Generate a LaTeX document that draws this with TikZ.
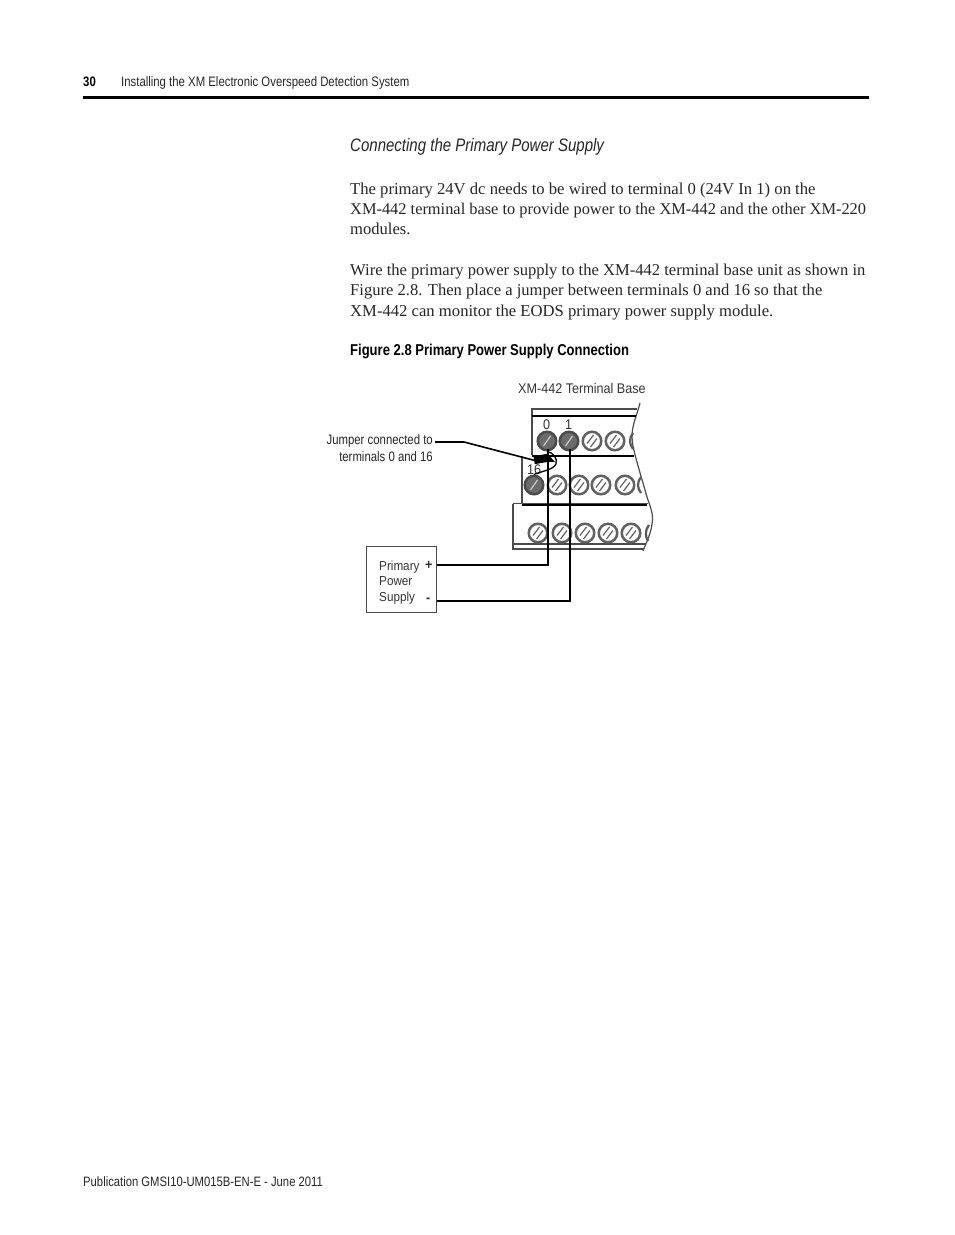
\documentclass[tikz,border=0pt]{standalone}
\usepackage{fontspec}
\setmainfont{Liberation Serif}
\newfontfamily\condfont[FakeStretch=0.83]{Liberation Sans}
\newfontfamily\figfont[FakeStretch=0.9]{Liberation Sans}
\begin{document}
\begin{tikzpicture}[x=1pt,y=-1pt,
  txt/.style={inner sep=0pt,anchor=base west,text=black!85},
  bodytxt/.style={txt,font=\fontsize{16.57}{18}\selectfont},
  headtxt/.style={txt,font=\condfont\fontsize{13.7}{15}\selectfont},
  labeltxt/.style={inner sep=0pt,anchor=base east,text=black!85,font=\condfont\fontsize{13.7}{15}\selectfont},
  figtxt/.style={inner sep=0pt,anchor=base west,text=black!80,font=\figfont\fontsize{13}{14}\selectfont},
  outline/.style={draw=black!70,line width=1.2pt},
  thick rail/.style={draw=black,line width=2pt},
  wire/.style={draw=black,line width=2pt},
  screwbase/.style={circle,minimum size=18.5pt,inner sep=0pt,line width=2.5pt,draw=black!62},
  darkscrew/.style={screwbase,draw=black!70,fill=black!58,path picture={
      \draw[white!80!black,line width=1.2pt] ([shift={(3.5pt,5pt)}]path picture bounding box.center) -- ([shift={(-3.5pt,-5pt)}]path picture bounding box.center);}},
  lightscrew/.style={screwbase,fill=white,path picture={
      \draw[black!62,line width=1.2pt] ([shift={(1.5pt,6pt)}]path picture bounding box.center) -- ([shift={(-5pt,-2.5pt)}]path picture bounding box.center);
      \draw[black!62,line width=1.2pt] ([shift={(5pt,2.5pt)}]path picture bounding box.center) -- ([shift={(-1.5pt,-6pt)}]path picture bounding box.center);}},
]
\useasboundingbox (0,0) rectangle (954,1235);
\fill[white] (0,0) rectangle (954,1235);

% page header
\node[txt,font=\condfont\bfseries\fontsize{13.7}{15}\selectfont,text=black] (pagenum) at (83,86) {30};
\node[headtxt] (runhead) at (121,86) {Installing the XM Electronic Overspeed Detection System};
\fill[black] (83,95.5) rectangle (869,98.5);

% text
\node[txt,font=\condfont\itshape\fontsize{18.1}{20}\selectfont] (heading) at (350,151) {Connecting the Primary Power Supply};
\node[bodytxt,font=\fontsize{16.64}{18}\selectfont] (b1) at (350,194.5) {The primary 24V dc needs to be wired to terminal 0 (24V In 1) on the};
\node[bodytxt,font=\fontsize{16.38}{18}\selectfont] (b2) at (350,214.5) {XM-442 terminal base to provide power to the XM-442 and the other XM-220};
\node[bodytxt] (b3) at (350,234.5) {modules.};
\node[bodytxt] (b4) at (350,275.5) {Wire the primary power supply to the XM-442 terminal base unit as shown in};
\node[bodytxt] (b5) at (350,295.5) {Figure 2.8. Then place a jumper between terminals 0 and 16 so that the};
\node[bodytxt,font=\fontsize{16.65}{18}\selectfont] (b6) at (350,316.5) {XM-442 can monitor the EODS primary power supply module.};
\node[txt,font=\condfont\bfseries\fontsize{15.7}{17}\selectfont,text=black] (caption) at (350,355) {Figure 2.8 Primary Power Supply Connection};
\node[headtxt,font=\condfont\fontsize{13.58}{15}\selectfont] (footer) at (83,1186.5) {Publication GMSI10-UM015B-EN-E - June 2011};

% terminal base
\node[figtxt,font=\figfont\fontsize{14}{15}\selectfont] (title) at (518,393) {XM-442 Terminal Base};
\path[outline] (532,455) -- (532,409) -- (637,409);
\path[outline] (640,403) .. controls (636,418) and (632,425) .. (632,437) .. controls (632,448) and (640,472) .. (647,497);
\path[thick rail] (532,415.5) -- (636,415.5);
\path[thick rail] (532,455.5) -- (634,455.5);
\path[outline] (522,456) -- (522,504);
\path[outline] (513,503.5) -- (648,503.5);
\path[thick rail] (522,505) -- (647,505);
\path[outline] (513,503.5) -- (513,549) -- (644,549);
\path[outline] (513,544) -- (646,544);
\path[outline] (647,497) .. controls (650,506) and (654,515) .. (652,524) .. controls (651,533) and (647,541) .. (643,551);

% screws, row by row
\node[figtxt,font=\figfont\fontsize{14}{15}\selectfont] (t0) at (543,429) {0};
\node[figtxt,font=\figfont\fontsize{14}{15}\selectfont] (t1) at (565,429) {1};
\node[figtxt,font=\figfont\fontsize{14}{15}\selectfont] (t16) at (527,474) {16};
\node[darkscrew] (s0) at (547,441) {};
\node[darkscrew] (s1) at (569,441) {};
\node[lightscrew] (u2) at (592,441) {};
\node[lightscrew] (u3) at (615,441) {};
\node[darkscrew] (s16) at (534,485) {};
\node[lightscrew] (l1) at (557,485) {};
\node[lightscrew] (l2) at (579,485) {};
\node[lightscrew] (l3) at (601,485) {};
\node[lightscrew] (l4) at (625,485) {};
\node[lightscrew] (r0) at (538,533) {};
\node[lightscrew] (r1) at (562,533) {};
\node[lightscrew] (r2) at (585,533) {};
\node[lightscrew] (r3) at (608,533) {};
\node[lightscrew] (r4) at (631,533) {};
% partly hidden screws at the torn edge
\draw[black!65,line width=2.2pt] (633,433) .. controls (629,438) and (629,444) .. (633,449);
\draw[black!65,line width=2.2pt] (641,477) .. controls (637,482) and (637,488) .. (641,493);
\draw[black!65,line width=2.2pt] (649,525) .. controls (645,530) and (645,536) .. (648,541);

% power supply
\node[draw=black!70,line width=1pt,minimum width=70pt,minimum height=66pt,inner sep=0pt] (psu) at (401,579) {};
\node[figtxt] (p1) at (379,570) {Primary};
\node[figtxt] (p2) at (379,585) {Power};
\node[figtxt] (p3) at (379,601) {Supply};
\node[figtxt,font=\figfont\bfseries\fontsize{14}{15}\selectfont] (plus) at (425,569) {+};
\node[figtxt,font=\figfont\bfseries\fontsize{14}{15}\selectfont] (minus) at (426,602) {-};

% wires
\coordinate (pplus) at (psu.east |- 0,564.5);
\coordinate (pminus) at (psu.east |- 0,600.5);
\path[wire] (s0.center |- 0,449) ++(1,0) |- (pplus);
\path[wire] (s1.center |- 0,449) ++(1,0) |- (pminus);

% jumper
\draw[black,line width=1.3pt] (s0.south) .. controls (553,452) and (558,459) .. (556,464) .. controls (553,470) and (542,471) .. (s16.north);

% leader and its head
\node[labeltxt] (j1) at (433,444.5) {Jumper connected to};
\node[labeltxt] (j2) at (433,461.5) {terminals 0 and 16};
\coordinate (elbow) at (464,442);
\node[fill=black,inner sep=0pt,minimum width=14pt,minimum height=8pt,rotate=10] (tip) at (541,459) {};
\draw[black,line width=1.6pt] (j1.east |- elbow) ++(2,0) -- (elbow) -- (tip.west);
\fill[black] (tip.north east) -- (555,462) -- (tip.south east) -- cycle;
\end{tikzpicture}
\end{document}
